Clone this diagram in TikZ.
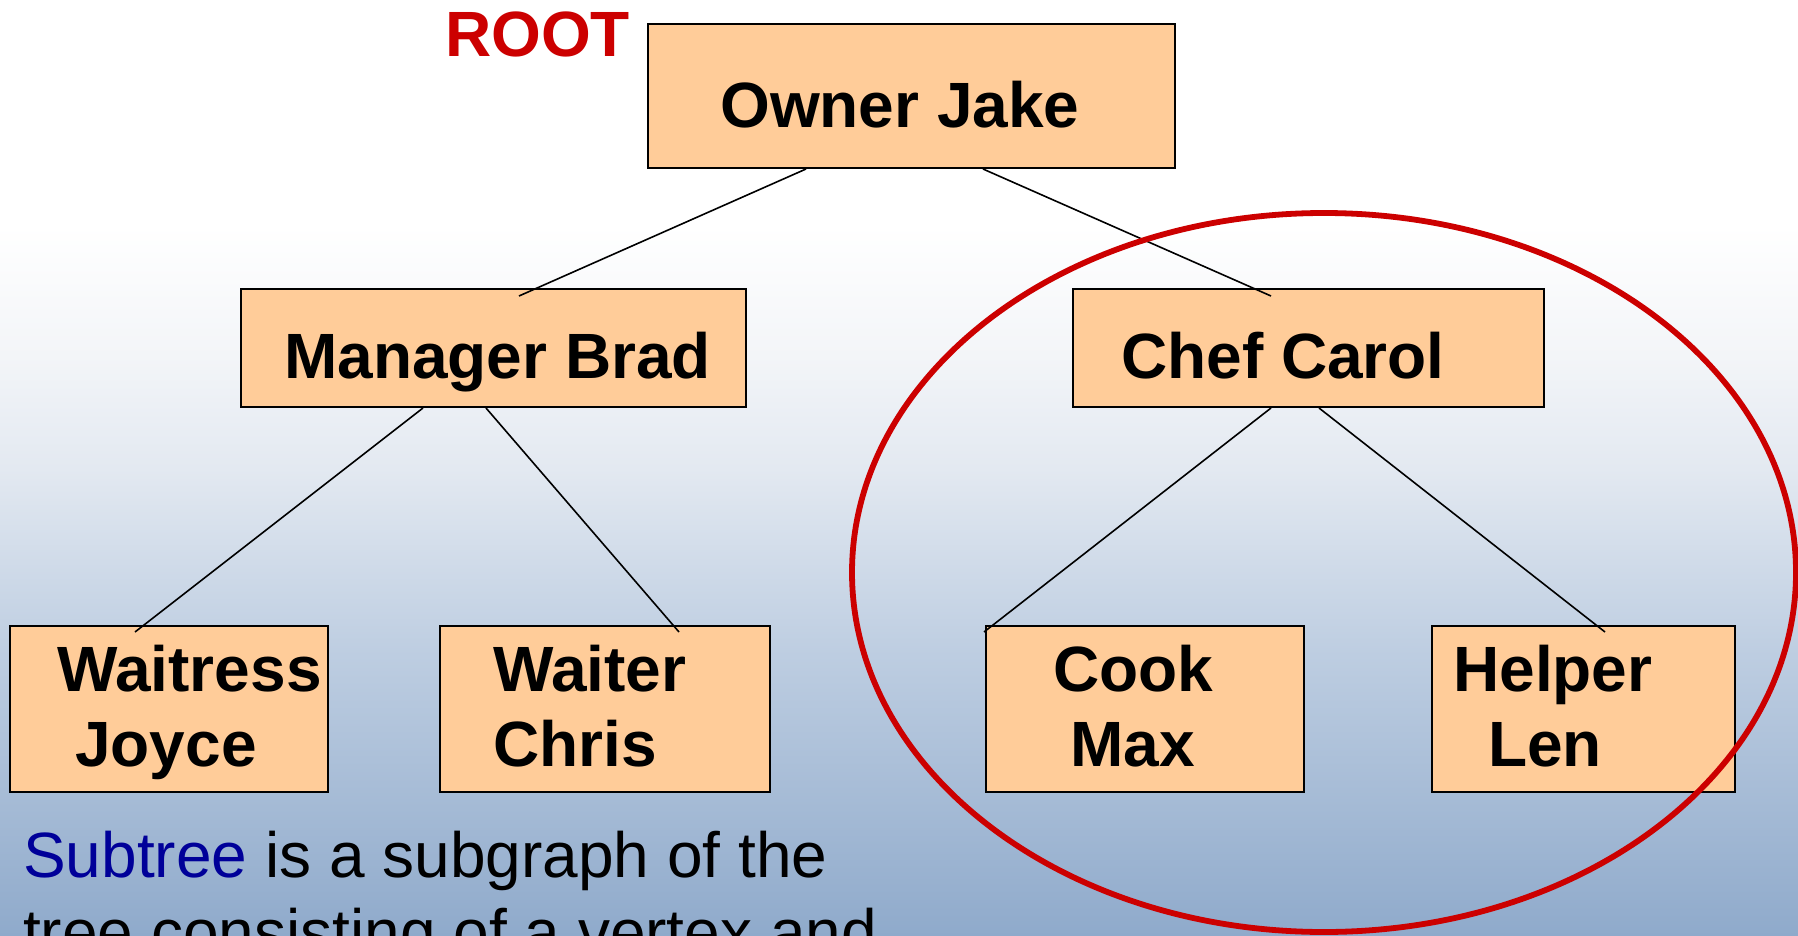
\documentclass[tikz,border=0pt]{standalone}
\usepackage{fontspec}
\setmainfont{Liberation Sans}

\definecolor{peach}{HTML}{FFCC99}
\definecolor{rootred}{HTML}{CC0000}
\definecolor{termblue}{HTML}{000099}
\definecolor{bgA}{HTML}{8FAACB}
\definecolor{bgB}{HTML}{BDCDE1}
\definecolor{bgC}{HTML}{E3E9F1}
\definecolor{bgD}{HTML}{F3F5F8}

% backdrop: steel blue at the foot fading to white over the upper quarter
\pgfdeclareverticalshading{backdrop}{100bp}{%
  color(0bp)=(bgA); color(25bp)=(bgA); color(40bp)=(bgB);
  color(50bp)=(bgC); color(56bp)=(bgD); color(63bp)=(white);
  color(100bp)=(white)}

\tikzset{
  box/.style={draw=black, line width=2pt, fill=peach, inner sep=0pt, anchor=north west},
  lbl/.style={anchor=base west, inner sep=0pt, font=\fontsize{64}{75}\selectfont\bfseries},
  note/.style={anchor=base west, inner sep=0pt, font=\fontsize{64}{77}\selectfont},
  link/.style={draw=black, line width=1.6pt},
  ring/.style={draw=rootred, line width=5.8pt},
}

\begin{document}
\begin{tikzpicture}[x=1pt, y=-1pt]
  \clip (0,0) rectangle (1798,936);
  \shade[shading=backdrop] (0,0) rectangle (1798,936);

  % boxes of the organisation chart
  \node[box, minimum width=527pt, minimum height=144pt] (owner) at (647,23) {};
  \node[box, minimum width=505pt, minimum height=118pt] (brad)  at (240,288) {};
  \node[box, minimum width=471pt, minimum height=118pt] (carol) at (1072,288) {};
  \node[box, minimum width=318pt, minimum height=166pt] (joyce) at (9,625) {};
  \node[box, minimum width=330pt, minimum height=166pt] (chris) at (439,625) {};
  \node[box, minimum width=318pt, minimum height=166pt] (max)   at (985,625) {};
  \node[box, minimum width=303pt, minimum height=166pt] (len)   at (1431,625) {};

  % names inside the boxes
  \node[lbl] (ownerT)  at (720,128)  {Owner Jake};
  \node[lbl] (bradT)   at (284,378)  {Manager Brad};
  \node[lbl] (carolT)  at (1121,378) {Chef Carol};
  \node[lbl] (joyceT1) at (57,691)   {Waitress};
  \node[lbl] (joyceT2) at (75,766)   {Joyce};
  \node[lbl] (chrisT1) at (493,691)  {Waiter};
  \node[lbl] (chrisT2) at (493,766)  {Chris};
  \node[lbl] (maxT1)   at (1053,691) {Cook};
  \node[lbl] (maxT2)   at (1070,766) {Max};
  \node[lbl] (lenT1)   at (1453,691) {Helper};
  \node[lbl] (lenT2)   at (1488,766) {Len};

  \node[lbl, text=rootred] (root) at (445,57) {ROOT};

  % tree edges
  \draw[link] ([xshift=159pt]owner.south west) -- ([xshift=279pt,yshift=-8pt]brad.north west);
  \draw[link] ([xshift=336pt]owner.south west) -- ([xshift=199pt,yshift=-8pt]carol.north west);
  \draw[link] ([xshift=183pt]brad.south west)  -- ([xshift=126pt,yshift=-7pt]joyce.north west);
  \draw[link] ([xshift=246pt]brad.south west)  -- ([xshift=240pt,yshift=-7pt]chris.north west);
  \draw[link] ([xshift=199pt]carol.south west) -- ([xshift=-1pt,yshift=-7pt]max.north west);
  \draw[link] ([xshift=247pt]carol.south west) -- ([xshift=174pt,yshift=-7pt]len.north west);

  % the subtree rooted at Chef Carol
  \draw[ring] (1324,572.5) ellipse [x radius=472, y radius=359.5];

  % definition text
  \node[note] (def1) at (23,877) {\textcolor{termblue}{Subtree} is a subgraph of the};
  \node[note] (def2) at (23,954) {tree consisting of a vertex and};
\end{tikzpicture}
\end{document}
